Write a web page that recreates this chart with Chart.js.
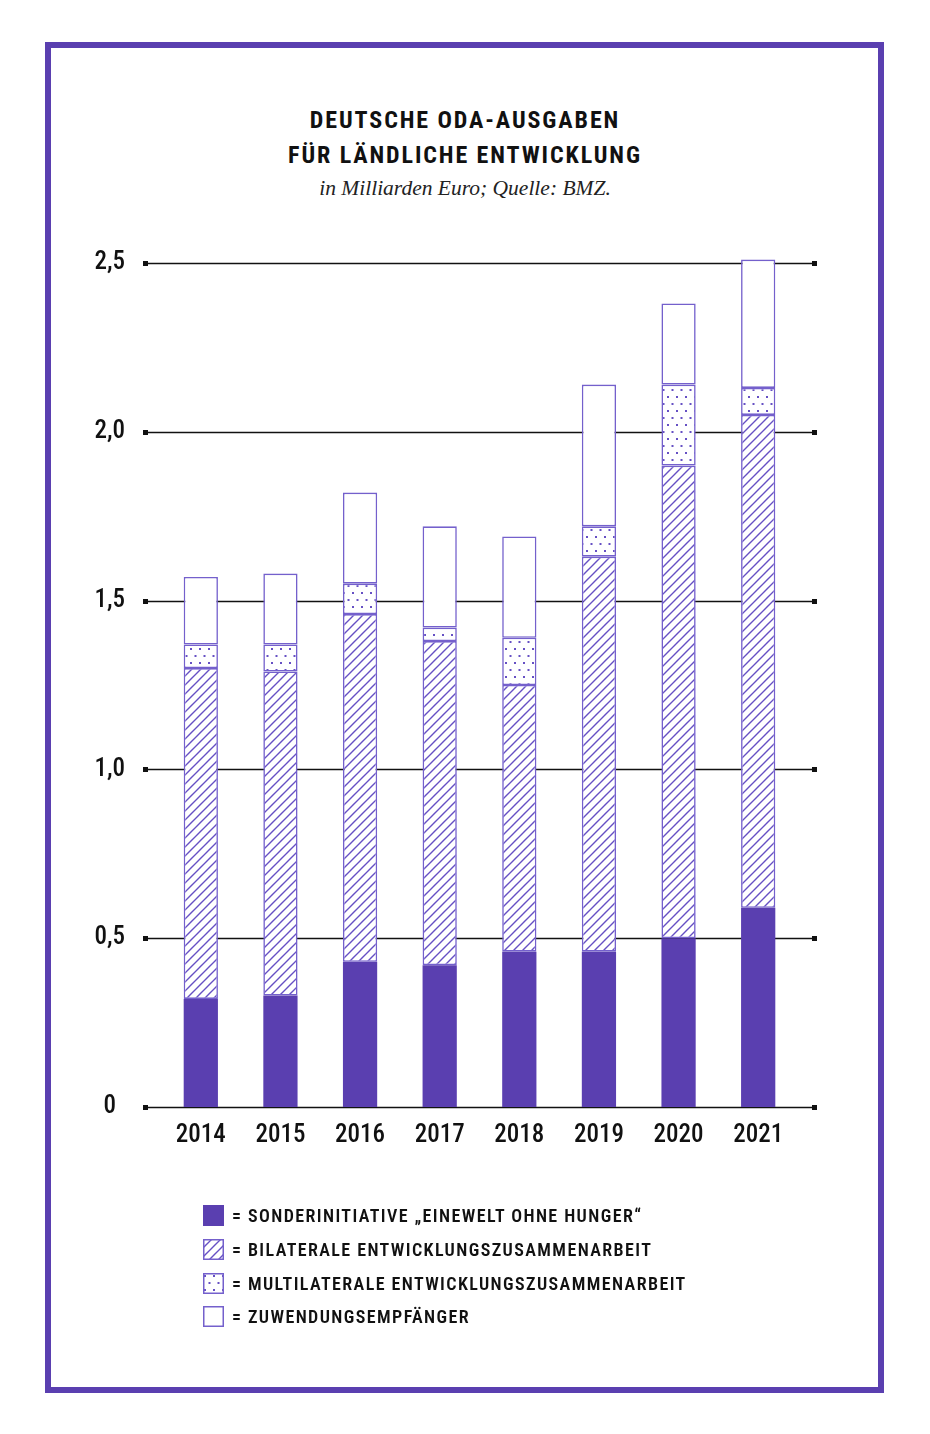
<!DOCTYPE html>
<html lang="de">
<head>
<meta charset="utf-8">
<script src="https://cdn.jsdelivr.net/npm/chart.js@4"></script>
<style>
  body { margin: 0; width: 930px; height: 1434px; background: #fff; position: relative; overflow: hidden; }
  #frame { position: absolute; left: 45px; top: 42px; width: 839px; height: 1351px; box-sizing: border-box; border: 6px solid #5a3fb0; }
  .title { position: absolute; left: 0; width: 930px; text-align: center; font-family: "Roboto Condensed", "Roboto", sans-serif; font-stretch: condensed; font-weight: 700; font-size: 24px; letter-spacing: 1.9px; color: #111; }
  #sub { position: absolute; left: 0; top: 176px; width: 930px; text-align: center; font-family: "Liberation Serif", serif; font-style: italic; font-size: 21.5px; color: #222; }
  #chartBox { position: absolute; left: 0; top: 240px; width: 930px; height: 930px; }
  #legend { position: absolute; left: 203px; top: 1199px; font-family: "Roboto Condensed", "Roboto", sans-serif; font-stretch: condensed; font-weight: 600; font-size: 18px; letter-spacing: 1.4px; color: #111; }
  .row { height: 33.7px; display: flex; align-items: center; }
  .row canvas { width: 21px; height: 21px; margin-right: 8px; }
</style>
</head>
<body>
<div id="frame"></div>
<div class="title" style="top:106px">DEUTSCHE ODA-AUSGABEN</div>
<div class="title" style="top:141px">FÜR LÄNDLICHE ENTWICKLUNG</div>
<div id="sub">in Milliarden Euro; Quelle: BMZ.</div>
<div id="chartBox"><canvas id="chart"></canvas></div>
<div id="legend"></div>
<script>
const years = ['2014', '2015', '2016', '2017', '2018', '2019', '2020', '2021'];
const sonderinitiative = [0.32, 0.33, 0.43, 0.42, 0.46, 0.46, 0.50, 0.59];
const bilateral = [0.98, 0.96, 1.03, 0.96, 0.79, 1.17, 1.40, 1.46];
const multilateral = [0.07, 0.08, 0.09, 0.04, 0.14, 0.09, 0.24, 0.08];
const zuwendung = [0.20, 0.21, 0.27, 0.30, 0.30, 0.42, 0.24, 0.38];
const yTicks = [0, 0.5, 1.0, 1.5, 2.0, 2.5];
const legendLabels = [
  '= SONDERINITIATIVE „EINEWELT OHNE HUNGER“',
  '= BILATERALE ENTWICKLUNGSZUSAMMENARBEIT',
  '= MULTILATERALE ENTWICKLUNGSZUSAMMENARBEIT',
  '= ZUWENDUNGSEMPFÄNGER'
];

const purple = '#5a3fb0';
const linePurple = '#7460cc';

function hatchPattern() {
  const c = document.createElement('canvas');
  c.width = 9; c.height = 9;
  const g = c.getContext('2d');
  g.fillStyle = '#fff';
  g.fillRect(0, 0, 9, 9);
  g.strokeStyle = '#6650c4';
  g.lineWidth = 1.4;
  g.beginPath();
  g.moveTo(-1, 10); g.lineTo(10, -1);
  g.moveTo(-1, 1); g.lineTo(1, -1);
  g.moveTo(8, 10); g.lineTo(10, 8);
  g.stroke();
  return g.createPattern(c, 'repeat');
}

function dotPattern() {
  const c = document.createElement('canvas');
  c.width = 9; c.height = 14;
  const g = c.getContext('2d');
  g.fillStyle = '#fff';
  g.fillRect(0, 0, 9, 14);
  g.fillStyle = '#6650c4';
  g.fillRect(1, 2, 2, 2);
  g.fillRect(5.5, 9, 2, 2);
  return g.createPattern(c, 'repeat');
}

const fills = [purple, hatchPattern(), dotPattern(), '#fff'];

// horizontal lines with small square ends
const gridPlugin = {
  id: 'gridLines',
  beforeDatasetsDraw(chart) {
    const ctx = chart.ctx;
    const y = chart.scales.y;
    ctx.save();
    ctx.strokeStyle = '#111';
    ctx.fillStyle = '#111';
    ctx.lineWidth = 1.6;
    yTicks.forEach(v => {
      const py = Math.round(y.getPixelForValue(v)) + 0.5;
      ctx.beginPath();
      ctx.moveTo(146, py);
      ctx.lineTo(814, py);
      ctx.stroke();
      ctx.fillRect(143, py - 2.5, 5, 5);
      ctx.fillRect(812, py - 2.5, 5, 5);
    });
    ctx.restore();
  }
};

const series = [sonderinitiative, bilateral, multilateral, zuwendung];
const datasets = series.map((d, i) => ({
  label: legendLabels[i],
  data: d,
  backgroundColor: fills[i],
  borderColor: i === 0 ? purple : linePurple,
  borderWidth: i === 0 ? 0 : 1.6,
  borderSkipped: false,
  barPercentage: 0.43,
  categoryPercentage: 1,
  clip: false
}));

const tickFont = { family: '"Roboto Condensed", Roboto, sans-serif', size: 25, weight: '500' };

new Chart(document.getElementById('chart'), {
  type: 'bar',
  data: { labels: years, datasets: datasets },
  options: {
    responsive: true,
    maintainAspectRatio: false,
    animation: false,
    layout: { padding: { left: 59, right: 132, top: 23, bottom: 13 } },
    plugins: { legend: { display: false }, tooltip: { enabled: false } },
    scales: {
      x: {
        stacked: true,
        afterFit(scale) { scale.height = 50; },
        grid: { display: false },
        border: { display: false },
        ticks: { color: '#111', font: tickFont, padding: 6, maxRotation: 0 }
      },
      y: {
        stacked: true,
        min: 0,
        max: 2.5,
        afterFit(scale) {
          scale.width = 102;
          scale.paddingTop = 0;
          scale.paddingBottom = 0;
        },
        afterBuildTicks(scale) { scale.ticks = yTicks.map(v => ({ value: v })); },
        grid: { display: false },
        border: { display: false },
        ticks: {
          color: '#111',
          font: tickFont,
          crossAlign: 'center',
          padding: 28,
          callback: v => v === 0 ? '0' : v.toFixed(1).replace('.', ',')
        }
      }
    }
  },
  plugins: [gridPlugin]
});

// legend with the same fills
const legend = document.getElementById('legend');
legendLabels.forEach((txt, i) => {
  const row = document.createElement('div');
  row.className = 'row';
  const sw = document.createElement('canvas');
  sw.width = 21; sw.height = 21;
  const g = sw.getContext('2d');
  g.fillStyle = fills[i];
  g.fillRect(0, 0, 21, 21);
  if (i > 0) {
    g.strokeStyle = linePurple;
    g.lineWidth = 1.5;
    g.strokeRect(0.75, 0.75, 19.5, 19.5);
  }
  const span = document.createElement('span');
  span.textContent = txt;
  row.appendChild(sw);
  row.appendChild(span);
  legend.appendChild(row);
});
</script>
</body>
</html>
